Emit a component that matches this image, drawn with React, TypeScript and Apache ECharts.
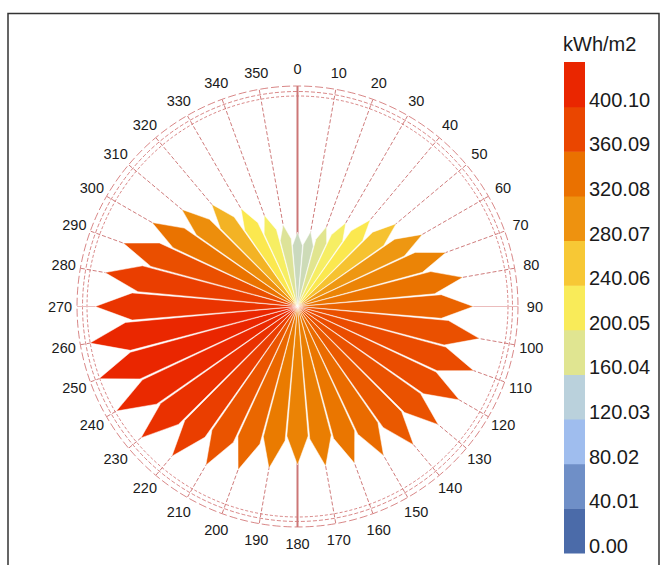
import { useEffect, useRef } from "react";
import * as echarts from "echarts";

// ---- data ----
const directions = [0, 10, 20, 30, 40, 50, 60, 70, 80, 90, 100, 110, 120, 130, 140, 150, 160, 170,
  180, 190, 200, 210, 220, 230, 240, 250, 260, 270, 280, 290, 300, 310, 320, 330, 340, 350];
const directionLabels = ["0", "10", "20", "30", "40", "50", "60", "70", "80", "90", "100", "110", "120", "130", "140", "150", "160", "170",
  "180", "190", "200", "210", "220", "230", "240", "250", "260", "270", "280", "290", "300", "310", "320", "330", "340", "350"];
const radiation = [141, 144, 161, 183, 214, 244, 273, 299, 318, 333, 350, 355, 354, 348, 342, 326, 316, 307,
  300, 311, 329, 347, 370, 387, 396, 400.1, 399, 383, 370, 351, 318, 286, 253, 214, 184, 157];
const legendLabels = ["0.00", "40.01", "80.02", "120.03", "160.04", "200.05", "240.06", "280.07", "320.08", "360.09", "400.10"];
const colorSet = ["#4b6ba9", "#7393ca", "#aac8f7", "#c1d5d0", "#f5ef67", "#fce64a", "#ef9c15", "#ea7b00", "#ea4a00", "#ea2600"];
const legendMin = 0;
const legendMax = 400.1;
const unitTitle = "kWh/m2";
const mainAxes = [0, 90, 180, 270];
const ringValues = [398.5, 407, 417.4];
const radiusMax = 416.5;
const labelRadius = 449.5;

// ---- layout ----
const W = 663;
const H = 565;
const CX = 297.5;
const CY = 306.5;
const R = 220;
const HALF = 4.7;
const SHOULDER = 0.82;
const FONT = "Liberation Sans, Arial, sans-serif";

function hexToRgb(h: string) {
  const n = parseInt(h.slice(1), 16);
  return [(n >> 16) & 255, (n >> 8) & 255, n & 255];
}
function gradientColor(v: number) {
  const n = colorSet.length;
  const t = ((v - legendMin) / (legendMax - legendMin)) * (n - 1);
  const i = Math.max(0, Math.min(Math.floor(t), n - 2));
  const f = Math.max(0, Math.min(1, t - i));
  const a = hexToRgb(colorSet[i]);
  const b = hexToRgb(colorSet[i + 1]);
  const c = a.map((x, k) => Math.round(x + (b[k] - x) * f));
  return `rgb(${c[0]},${c[1]},${c[2]})`;
}

function buildOption() {
  const barTop = 62;
  const barBottom = 553;
  const barX = 564;
  const barW = 21;
  const bandH = (barBottom - barTop) / legendLabels.length;
  const legendEls: any[] = [];
  legendLabels.forEach((lab, i) => {
    const yBottom = barBottom - i * bandH;
    legendEls.push({
      type: "rect",
      shape: { x: barX, y: yBottom - bandH, width: barW, height: bandH + 0.5 },
      style: { fill: gradientColor(parseFloat(lab)) },
      z: 5,
    });
    legendEls.push({
      type: "text",
      x: barX + 25,
      y: yBottom - 7,
      style: { text: lab, fill: "#1a1a1a", font: `20px ${FONT}`, verticalAlign: "middle", align: "left" },
      z: 5,
    });
  });

  return {
    animation: false,
    backgroundColor: "#ffffff",
    polar: { center: [CX, CY], radius: R },
    angleAxis: {
      type: "value",
      min: 0,
      max: 360,
      interval: 10,
      startAngle: 90,
      clockwise: true,
      axisLine: { show: false },
      axisTick: { show: false },
      axisLabel: { show: false },
      splitLine: {
        show: true,
        lineStyle: { color: "rgba(175,35,35,0.75)", width: 0.8, type: [4, 2] },
      },
    },
    radiusAxis: {
      type: "value",
      min: 0,
      max: radiusMax,
      axisLine: { show: false },
      axisTick: { show: false },
      axisLabel: { show: false },
      splitLine: { show: false },
    },
    visualMap: {
      type: "continuous",
      show: false,
      min: legendMin,
      max: legendMax,
      dimension: 0,
      seriesIndex: 2,
      inRange: { color: colorSet },
    },
    graphic: [
      {
        type: "rect",
        shape: { x: 8, y: 13.5, width: 651, height: 600 },
        style: { fill: "none", stroke: "#333", lineWidth: 1.5 },
        z: 10,
      },
      {
        type: "text",
        x: 563,
        y: 44,
        style: { text: unitTitle, fill: "#1a1a1a", font: `20px ${FONT}`, verticalAlign: "middle", align: "left" },
        z: 5,
      },
      ...legendEls,
    ],
    series: [
      {
        type: "custom",
        name: "rings",
        coordinateSystem: "polar",
        silent: true,
        z: 1,
        data: ringValues.map((v) => [v, 0]),
        renderItem: (params: any, api: any) => {
          const c = api.coord([0, 0]);
          const p = api.coord([api.value(0), 0]);
          const r = Math.hypot(p[0] - c[0], p[1] - c[1]);
          const dashes = [[3, 2], [4, 2], [8, 3]];
          return {
            type: "circle",
            shape: { cx: c[0], cy: c[1], r },
            style: {
              fill: "none",
              stroke: "rgba(185,40,40,0.7)",
              lineWidth: 0.8,
              lineDash: dashes[params.dataIndex % 3],
            },
          };
        },
      },
      {
        type: "custom",
        name: "axes",
        coordinateSystem: "polar",
        silent: true,
        z: 1,
        data: mainAxes.map((a) => [ringValues[2], a]),
        renderItem: (params: any, api: any) => {
          const a = api.value(1);
          const c = api.coord([0, a]);
          const p = api.coord([api.value(0), a]);
          const vertical = a % 180 === 0;
          return {
            type: "line",
            shape: { x1: c[0], y1: c[1], x2: p[0], y2: p[1] },
            style: {
              stroke: vertical ? "#cc7777" : "#ebbcbc",
              lineWidth: vertical ? 2 : 1,
            },
          };
        },
      },
      {
        type: "custom",
        name: "Radiation",
        coordinateSystem: "polar",
        z: 3,
        data: directions.map((d, i) => [radiation[i], d]),
        encode: { radius: 0, angle: 1 },
        renderItem: (params: any, api: any) => {
          const r = api.value(0);
          const a = api.value(1);
          const c = api.coord([0, a]);
          const s1 = api.coord([r * SHOULDER, a - HALF]);
          const tip = api.coord([r, a]);
          const s2 = api.coord([r * SHOULDER, a + HALF]);
          return {
            type: "polygon",
            shape: { points: [c, s1, tip, s2] },
            style: { fill: api.visual("color"), stroke: "#ffffff", lineWidth: 0.5 },
          };
        },
      },
      {
        type: "custom",
        name: "direction labels",
        coordinateSystem: "polar",
        silent: true,
        z: 4,
        data: directions.map((d) => [labelRadius, d]),
        renderItem: (params: any, api: any) => {
          const p = api.coord([api.value(0), api.value(1)]);
          return {
            type: "text",
            x: p[0],
            y: p[1],
            style: {
              text: directionLabels[params.dataIndex],
              fill: "#1a1a1a",
              font: `14.5px ${FONT}`,
              align: "center",
              verticalAlign: "middle",
            },
          };
        },
      },
    ],
  };
}

export default function App() {
  const ref = useRef<HTMLDivElement>(null);
  useEffect(() => {
    if (!ref.current) return;
    const chart = echarts.init(ref.current, null, { renderer: "svg" });
    chart.setOption(buildOption() as any);
    return () => chart.dispose();
  }, []);
  return (
    <div
      ref={ref}
      style={{ position: "fixed", left: 0, top: 0, width: W, height: H, background: "#fff" }}
    />
  );
}
